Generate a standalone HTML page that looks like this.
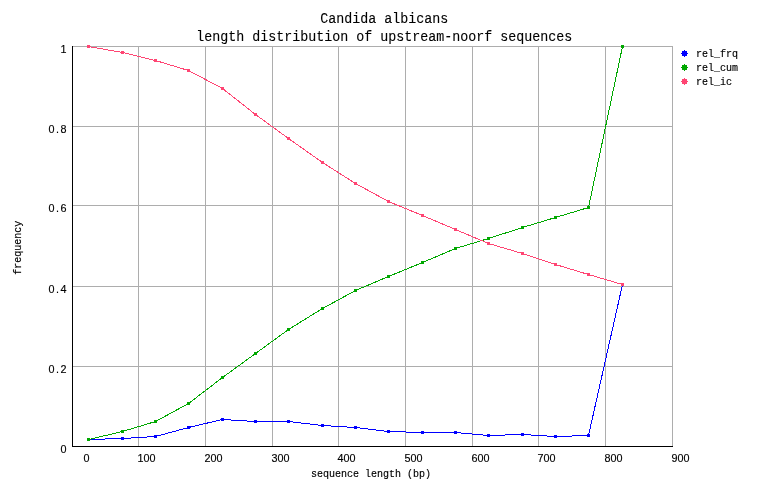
<!DOCTYPE html>
<html><head><meta charset="utf-8"><title>Candida albicans - length distribution of upstream-noorf sequences</title>
<style>
html,body{margin:0;padding:0;background:#fff;}
svg{display:block;}
text{font-family:"Liberation Mono","DejaVu Sans Mono",monospace;fill:#000;stroke:#000;stroke-width:0.15px;}
.s{font-size:10px;}
.n{font-family:"Liberation Sans",sans-serif;font-size:10.8px;}
.t{font-size:13.333px;stroke-width:0.1px;}
</style></head><body>
<svg width="768" height="498" viewBox="0 0 768 498">
<rect width="768" height="498" fill="#fff"/>
<g shape-rendering="crispEdges">
<rect x="138" y="46" width="1" height="400" fill="#adadad"/><rect x="205" y="46" width="1" height="400" fill="#adadad"/><rect x="272" y="46" width="1" height="400" fill="#adadad"/><rect x="338" y="46" width="1" height="400" fill="#adadad"/><rect x="405" y="46" width="1" height="400" fill="#adadad"/><rect x="472" y="46" width="1" height="400" fill="#adadad"/><rect x="538" y="46" width="1" height="400" fill="#adadad"/><rect x="605" y="46" width="1" height="400" fill="#adadad"/><rect x="672" y="46" width="1" height="400" fill="#adadad"/><rect x="72" y="46" width="601" height="1" fill="#adadad"/><rect x="72" y="126" width="601" height="1" fill="#adadad"/><rect x="72" y="205" width="601" height="1" fill="#adadad"/><rect x="72" y="286" width="601" height="1" fill="#adadad"/><rect x="72" y="366" width="601" height="1" fill="#adadad"/>
<polyline points="88.5,439.5 122.5,438.5 155.5,436.5 188.5,427.5 222.5,419.5 255.5,421.5 288.5,421.5 322.5,425.5 355.5,427.5 388.5,431.5 422.5,432.5 455.5,432.5 488.5,435.5 522.5,434.5 555.5,436.5 588.5,435.5 622.5,284.5" fill="none" stroke="#0000ff" stroke-width="1"/>
<rect x="87" y="438" width="3" height="3" fill="#0000ff"/><rect x="121" y="437" width="3" height="3" fill="#0000ff"/><rect x="154" y="435" width="3" height="3" fill="#0000ff"/><rect x="187" y="426" width="3" height="3" fill="#0000ff"/><rect x="221" y="418" width="3" height="3" fill="#0000ff"/><rect x="254" y="420" width="3" height="3" fill="#0000ff"/><rect x="287" y="420" width="3" height="3" fill="#0000ff"/><rect x="321" y="424" width="3" height="3" fill="#0000ff"/><rect x="354" y="426" width="3" height="3" fill="#0000ff"/><rect x="387" y="430" width="3" height="3" fill="#0000ff"/><rect x="421" y="431" width="3" height="3" fill="#0000ff"/><rect x="454" y="431" width="3" height="3" fill="#0000ff"/><rect x="487" y="434" width="3" height="3" fill="#0000ff"/><rect x="521" y="433" width="3" height="3" fill="#0000ff"/><rect x="554" y="435" width="3" height="3" fill="#0000ff"/><rect x="587" y="434" width="3" height="3" fill="#0000ff"/><rect x="621" y="283" width="3" height="3" fill="#0000ff"/>
<polyline points="88.5,439.5 122.5,431.5 155.5,421.5 188.5,403.5 222.5,377.5 255.5,353.5 288.5,329.5 322.5,308.5 355.5,290.5 388.5,276.5 422.5,262.5 455.5,248.5 488.5,238.5 522.5,227.5 555.5,217.5 588.5,207.5 622.5,46.5" fill="none" stroke="#00a800" stroke-width="1"/>
<rect x="87" y="438" width="3" height="3" fill="#00a800"/><rect x="121" y="430" width="3" height="3" fill="#00a800"/><rect x="154" y="420" width="3" height="3" fill="#00a800"/><rect x="187" y="402" width="3" height="3" fill="#00a800"/><rect x="221" y="376" width="3" height="3" fill="#00a800"/><rect x="254" y="352" width="3" height="3" fill="#00a800"/><rect x="287" y="328" width="3" height="3" fill="#00a800"/><rect x="321" y="307" width="3" height="3" fill="#00a800"/><rect x="354" y="289" width="3" height="3" fill="#00a800"/><rect x="387" y="275" width="3" height="3" fill="#00a800"/><rect x="421" y="261" width="3" height="3" fill="#00a800"/><rect x="454" y="247" width="3" height="3" fill="#00a800"/><rect x="487" y="237" width="3" height="3" fill="#00a800"/><rect x="521" y="226" width="3" height="3" fill="#00a800"/><rect x="554" y="216" width="3" height="3" fill="#00a800"/><rect x="587" y="206" width="3" height="3" fill="#00a800"/><rect x="621" y="45" width="3" height="3" fill="#00a800"/>
<polyline points="88.5,46.5 122.5,52.5 155.5,60.5 188.5,70.5 222.5,88.5 255.5,114.5 288.5,138.5 322.5,162.5 355.5,183.5 388.5,201.5 422.5,215.5 455.5,229.5 488.5,243.5 522.5,253.5 555.5,264.5 588.5,274.5 622.5,284.5" fill="none" stroke="#ff4573" stroke-width="1"/>
<rect x="87" y="45" width="3" height="3" fill="#ff4573"/><rect x="121" y="51" width="3" height="3" fill="#ff4573"/><rect x="154" y="59" width="3" height="3" fill="#ff4573"/><rect x="187" y="69" width="3" height="3" fill="#ff4573"/><rect x="221" y="87" width="3" height="3" fill="#ff4573"/><rect x="254" y="113" width="3" height="3" fill="#ff4573"/><rect x="287" y="137" width="3" height="3" fill="#ff4573"/><rect x="321" y="161" width="3" height="3" fill="#ff4573"/><rect x="354" y="182" width="3" height="3" fill="#ff4573"/><rect x="387" y="200" width="3" height="3" fill="#ff4573"/><rect x="421" y="214" width="3" height="3" fill="#ff4573"/><rect x="454" y="228" width="3" height="3" fill="#ff4573"/><rect x="487" y="242" width="3" height="3" fill="#ff4573"/><rect x="521" y="252" width="3" height="3" fill="#ff4573"/><rect x="554" y="263" width="3" height="3" fill="#ff4573"/><rect x="587" y="273" width="3" height="3" fill="#ff4573"/><rect x="621" y="283" width="3" height="3" fill="#ff4573"/>
<rect x="72" y="46" width="1" height="401" fill="#000"/><rect x="72" y="446" width="601" height="1" fill="#000"/>
<rect x="682" y="51" width="5" height="5" fill="#0000ff"/><rect x="681" y="53" width="7" height="1" fill="#0000ff"/><rect x="684" y="50" width="1" height="7" fill="#0000ff"/>
<rect x="682" y="65" width="5" height="5" fill="#00a800"/><rect x="681" y="67" width="7" height="1" fill="#00a800"/><rect x="684" y="64" width="1" height="7" fill="#00a800"/>
<rect x="682" y="79" width="5" height="5" fill="#ff4573"/><rect x="681" y="81" width="7" height="1" fill="#ff4573"/><rect x="684" y="78" width="1" height="7" fill="#ff4573"/>
</g>
<text transform="translate(384.2,23) scale(1,1.13)" text-anchor="middle" class="t">Candida albicans</text>
<text transform="translate(384.2,41) scale(1,1.13)" text-anchor="middle" class="t">length distribution of upstream-noorf sequences</text>
<text x="60.4" y="53.2" class="n">1</text>
<text x="48.4 55.9 60.4" y="133.2" class="n">0.8</text>
<text x="48.4 55.9 60.4" y="212.2" class="n">0.6</text>
<text x="48.4 55.9 60.4" y="293.2" class="n">0.4</text>
<text x="48.4 55.9 60.4" y="373.2" class="n">0.2</text>
<text x="60.4" y="453.2" class="n">0</text>
<text x="83.4" y="462.2" class="n">0</text>
<text x="137.4 143.4 149.4" y="462.2" class="n">100</text>
<text x="204.4 210.4 216.4" y="462.2" class="n">200</text>
<text x="271.4 277.4 283.4" y="462.2" class="n">300</text>
<text x="337.4 343.4 349.4" y="462.2" class="n">400</text>
<text x="404.4 410.4 416.4" y="462.2" class="n">500</text>
<text x="471.4 477.4 483.4" y="462.2" class="n">600</text>
<text x="537.4 543.4 549.4" y="462.2" class="n">700</text>
<text x="604.4 610.4 616.4" y="462.2" class="n">800</text>
<text x="671.4 677.4 683.4" y="462.2" class="n">900</text>
<text transform="translate(371,477) scale(1,1.05)" text-anchor="middle" class="s">sequence length (bp)</text>
<text transform="translate(21,247.7) rotate(-90) scale(1,1.05)" text-anchor="middle" class="s">frequency</text>
<text transform="translate(696,57) scale(1,1.05)" text-anchor="start" class="s">rel_frq</text>
<text transform="translate(696,71) scale(1,1.05)" text-anchor="start" class="s">rel_cum</text>
<text transform="translate(696,85) scale(1,1.05)" text-anchor="start" class="s">rel_ic</text>
</svg>
</body></html>
